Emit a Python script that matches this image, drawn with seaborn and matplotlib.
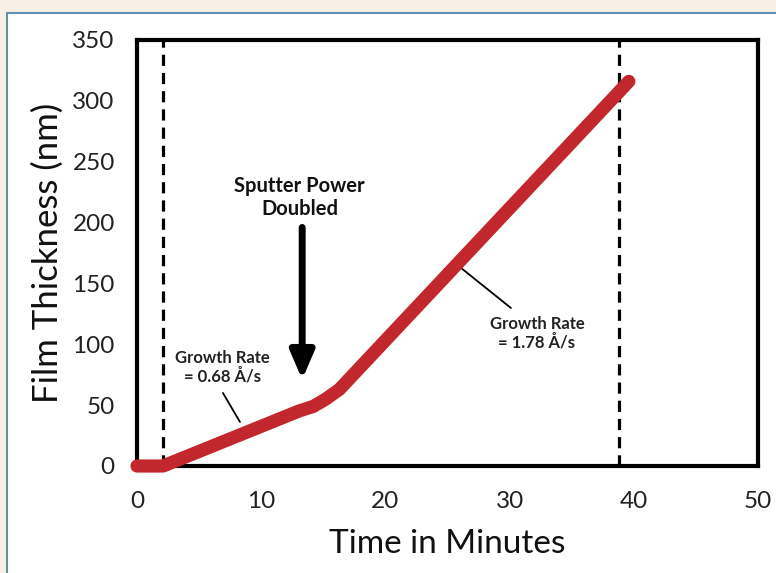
import matplotlib
matplotlib.use("Agg")
import matplotlib.pyplot as plt
from matplotlib.patches import Rectangle
from matplotlib.lines import Line2D
import seaborn as sns
import pandas as pd

# Film thickness during deposition
time_min = [0.0, 2.1, 13.0, 14.2, 15.2, 16.3, 39.6]
thickness_nm = [0.0, 0.0, 45.0, 49.0, 55.0, 63.0, 316.0]

# Start / end of deposition markers
shutter_times = [2.1, 38.8]

x_ticks = [0, 10, 20, 30, 40, 50]
y_ticks = [0, 50, 100, 150, 200, 250, 300, 350]

rate_low = "Growth Rate\n= 0.68 Å/s"
rate_high = "Growth Rate\n= 1.78 Å/s"
power_note = "Sputter Power\nDoubled"

sns.set_theme(style="white")
plt.rcParams["font.family"] = ["Lato", "DejaVu Sans"]

fig = plt.figure(figsize=(7.76, 5.73), dpi=100)
fig.patch.set_facecolor("white")

# page frame: beige margins with a thin blue rule
fig.add_artist(Rectangle((0, 1 - 12 / 573), 1, 12 / 573, transform=fig.transFigure,
                         facecolor="#f8f0e5", edgecolor="none", zorder=0))
fig.add_artist(Rectangle((0, 0), 6 / 776, 1, transform=fig.transFigure,
                         facecolor="#f8f0e5", edgecolor="none", zorder=0))
fig.add_artist(Line2D([6.5 / 776, 1], [1 - 12.5 / 573, 1 - 12.5 / 573], transform=fig.transFigure,
                      color="#5f8fb3", linewidth=1.5))
fig.add_artist(Line2D([6.5 / 776, 6.5 / 776], [0, 1 - 12.5 / 573], transform=fig.transFigure,
                      color="#5f8fb3", linewidth=1.5))

ax = fig.add_axes([137 / 776, 1 - 466 / 573, 621 / 776, 426 / 573])
ax.set_facecolor("white")

df = pd.DataFrame({"Time": time_min, "Thickness": thickness_nm})
sns.lineplot(data=df, x="Time", y="Thickness", ax=ax, color="#c1272d",
             linewidth=9.5, solid_capstyle="round", solid_joinstyle="round",
             clip_on=False, zorder=3)

for t in shutter_times:
    ax.axvline(t, color="black", linewidth=2.3, linestyle=(0, (3.5, 2.2)), zorder=2)

ax.set_xlim(0, 50)
ax.set_ylim(0, 350)
ax.set_xticks(x_ticks)
ax.set_yticks(y_ticks)
ax.tick_params(axis="both", direction="out", length=6, width=3, color="black",
               labelsize=17.5, labelcolor="#222222", pad=10)
ax.tick_params(axis="x", pad=12)
for s in ax.spines.values():
    s.set_color("black")
    s.set_linewidth(3)

ax.set_xlabel("Time in Minutes", fontsize=24, color="#111111", labelpad=12)
ax.set_ylabel("Film Thickness (nm)", fontsize=25, color="#111111", labelpad=6)

# annotations
ax.text(13.1, 220.6, power_note, ha="center", va="center", fontsize=14.5,
        fontweight="bold", color="#111111", linespacing=1.15)
ax.annotate("", xy=(13.3, 71.0), xytext=(13.3, 196.0),
            arrowprops=dict(arrowstyle="-|>,head_length=1.4,head_width=0.6",
                            color="black", linewidth=5, shrinkA=0, shrinkB=0))

ax.text(6.9, 81.3, rate_low, ha="center", va="center", fontsize=12,
        fontweight="bold", color="#222222", linespacing=1.15)
ax.plot([6.92, 8.29], [60.0, 36.2], color="black", linewidth=1.3)

ax.text(32.2, 109.3, rate_high, ha="center", va="center", fontsize=12,
        fontweight="bold", color="#222222", linespacing=1.15)
ax.plot([26.09, 30.11], [162.7, 129.8], color="black", linewidth=1.3)

fig.savefig("out.png", dpi=100)
